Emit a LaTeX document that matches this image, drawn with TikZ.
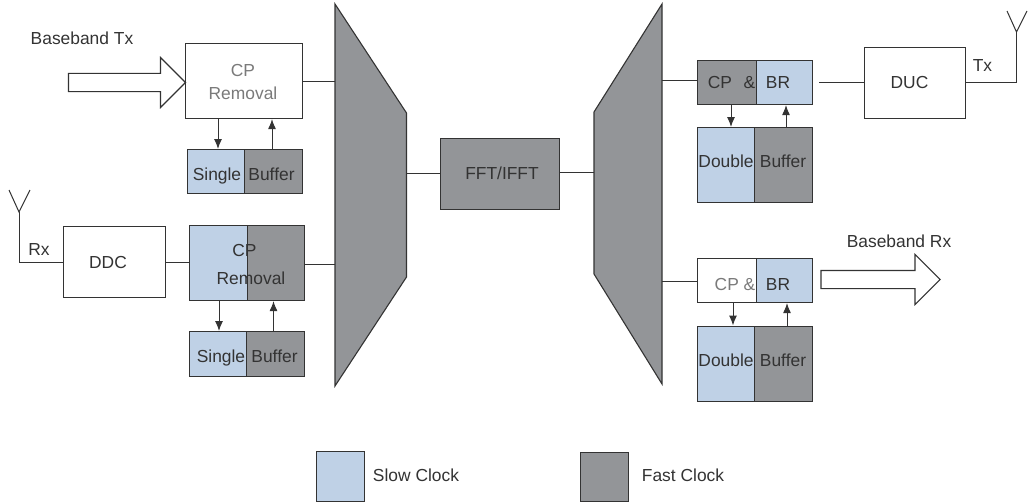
\documentclass[tikz,border=0pt]{standalone}
\usepackage{fontspec}
\setmainfont{Liberation Sans}
\usetikzlibrary{arrows.meta,shapes.arrows}
\definecolor{slowc}{HTML}{BFD1E6}
\definecolor{fastc}{HTML}{939598}
\definecolor{inkc}{HTML}{333333}
\definecolor{softc}{HTML}{7A7A7A}
\tikzset{
  wire/.style={draw=inkc,line width=1pt},
  flow/.style={wire,-{Latex[length=10pt,width=8pt]}},
  blk/.style={draw=inkc,line width=1.1pt,inner sep=0pt,anchor=north west,fill=white},
  slowb/.style={blk,fill=slowc},
  fastb/.style={blk,fill=fastc},
  txt/.style={text=inkc,inner sep=0pt,font=\fontsize{17.4}{21}\selectfont,anchor=base,yshift=-6.2pt},
  softtxt/.style={txt,text=softc},
  bigarrow/.style={draw=inkc,line width=1.1pt,fill=white,single arrow,inner xsep=0pt,inner ysep=8.5pt,
    minimum width=49pt,single arrow head extend=16pt,shape border rotate=0},
  muxb/.style={draw=inkc,line width=1.1pt,fill=fastc}
}
\begin{document}
\begin{tikzpicture}[x=1pt,y=-1pt]
\useasboundingbox (0,0) rectangle (1028,503);
% muxes
\draw[muxb] (335,4) -- (406.5,113) -- (406.5,277) -- (335,386) -- cycle;
\draw[muxb] (662,4) -- (594,112) -- (594,274) -- (662,384) -- cycle;
\coordinate (mlw) at (335,81.4);
\coordinate (mle) at (406.5,173);
\coordinate (mrw) at (594,172);
\coordinate (mre) at (662,80.4);
% left column
\node[blk,minimum width=117pt,minimum height=75pt] (cpa) at (185,43) {};
\node[slowb,minimum width=57pt,minimum height=44pt] (sal) at (187,149) {};
\node[fastb,minimum width=58pt,minimum height=44pt] (sar) at (244,149) {};
\node[slowb,minimum width=57.5pt,minimum height=75pt] (cbl) at (189,225) {};
\node[fastb,minimum width=57.5pt,minimum height=75pt] (cbr) at (246.5,225) {};
\node[slowb,minimum width=57.5pt,minimum height=45pt] (sbl) at (188.5,331) {};
\node[fastb,minimum width=58pt,minimum height=45pt] (sbr) at (246,331) {};
\node[blk,minimum width=102pt,minimum height=71pt] (ddc) at (63,226) {};
% centre
\node[fastb,minimum width=119pt,minimum height=71pt] (fft) at (440,137.5) {};
% right column
\node[fastb,minimum width=59pt,minimum height=44pt] (tcl) at (697,60) {};
\node[slowb,minimum width=56pt,minimum height=44pt] (tcr) at (756,60) {};
\node[slowb,minimum width=57pt,minimum height=75pt] (tdl) at (697,127) {};
\node[fastb,minimum width=58pt,minimum height=75pt] (tdr) at (754,127) {};
\node[blk,minimum width=58.5pt,minimum height=44pt] (bcl) at (697,258) {};
\node[slowb,minimum width=56.5pt,minimum height=44pt] (bcr) at (755.5,258) {};
\node[slowb,minimum width=57pt,minimum height=75.5pt] (bdl) at (697,325.5) {};
\node[fastb,minimum width=58pt,minimum height=75.5pt] (bdr) at (754,325.5) {};
\node[blk,minimum width=101pt,minimum height=71pt] (duc) at (864,47) {};
% legend
\node[slowb,minimum width=48pt,minimum height=50pt] (lgs) at (316,450.5) {};
\node[fastb,minimum width=48pt,minimum height=49pt] (lgf) at (580,452) {};
% block arrows
\node[bigarrow,minimum height=117pt] (atx) at (122.5,82.5) {};
\node[bigarrow,minimum height=119pt] (arx) at (876,279.5) {};
% connectors
\draw[wire] (cpa.east |- mlw) -- (mlw);
\draw[wire] (cbr.east |- 0,264) -- (mlw |- 0,264);
\draw[wire] (mle) -- (fft.west |- mle);
\draw[wire] (fft.east |- mrw) -- (mrw);
\draw[wire] (mre) -- (tcl.west |- mre);
\draw[wire] (mre |- 0,281) -- (bcl.west |- 0,281);
\draw[wire] (ddc.east |- 0,262) -- (cbl.west |- 0,262);
\coordinate (rxb) at (19,212);
\coordinate (rxl) at (9,190);
\coordinate (rxr) at (30,190);
\draw[wire] (rxb) |- (ddc.west |- 0,262);
\draw[wire] (rxl) -- (rxb) -- (rxr);
\coordinate (txb) at (1016.5,32);
\coordinate (txl) at (1007,11);
\coordinate (txr) at (1027,11);
\draw[wire] (duc.east |- 0,82.4) -| (txb);
\draw[wire] (txl) -- (txb) -- (txr);
\coordinate (tout) at (819,82.4);
\draw[wire] (tout) -- (duc.west |- tout);
% flows
\draw[flow] (218,0 |- cpa.south) -- (218,0 |- sal.north);
\draw[flow] (272,0 |- sar.north) -- (272,0 |- cpa.south);
\draw[flow] (219,0 |- cbl.south) -- (219,0 |- sbl.north);
\draw[flow] (273.5,0 |- sbr.north) -- (273.5,0 |- cbr.south);
\draw[flow] (731,0 |- tcl.south) -- (731,0 |- tdl.north);
\draw[flow] (786,0 |- tdr.north) -- (786,0 |- tcr.south);
\draw[flow] (733,0 |- bcl.south) -- (733,0 |- bdl.north);
\draw[flow] (787,0 |- bdr.north) -- (787,0 |- bcr.south);
% text
\node[txt] (l1) at (82,38) {Baseband Tx};
\node[softtxt] (l2) at (243,70) {CP};
\node[softtxt] (l3) at (243,93) {Removal};
\node[txt] (l4) at (217,174) {Single};
\node[txt] (l5) at (271.5,174) {Buffer};
\node[txt] (l6) at (39,249) {Rx};
\node[txt] (l7) at (108,262) {DDC};
\node[txt] (l8) at (244.5,250) {CP};
\node[txt] (l9) at (251,278) {Removal};
\node[txt] (l10) at (221,356) {Single};
\node[txt] (l11) at (274.5,356) {Buffer};
\node[txt] (l12) at (502,173) {FFT/IFFT};
\node[txt] (l13) at (720,82) {CP};
\node[txt] (l14) at (749.5,82) {\&};
\node[txt] (l15) at (778,82) {BR};
\node[txt] (l16) at (726,161) {Double};
\node[txt] (l17) at (783,161) {Buffer};
\node[txt] (l18) at (909.5,82) {DUC};
\node[txt] (l19) at (982.5,65) {Tx};
\node[txt] (l20) at (899,241) {Baseband Rx};
\node[softtxt] (l21) at (735,284) {CP \&};
\node[txt] (l22) at (778,284) {BR};
\node[txt] (l23) at (726,360) {Double};
\node[txt] (l24) at (783,360) {Buffer};
\node[txt] (l25) at (416,475.5) {Slow Clock};
\node[txt] (l26) at (683,475.5) {Fast Clock};
\end{tikzpicture}
\end{document}
